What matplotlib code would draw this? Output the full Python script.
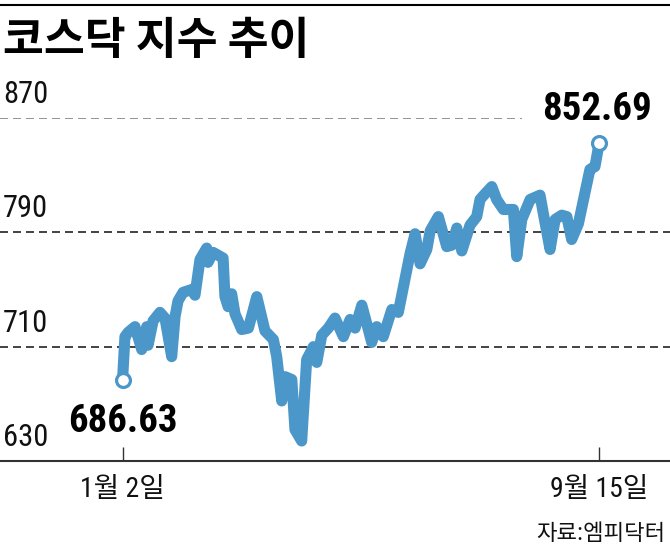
import numpy as np
import matplotlib.pyplot as plt

# KOSDAQ index, days counted from Jan 2
day = [0, 1.3, 3.0, 6.7, 10.3, 13.0, 13.7, 16.4, 20.1, 22.8, 26.4, 28.2, 29.8, 32.5,
       37.2, 38.9, 41.6, 45.2, 45.9, 48.6, 54.0, 55.0, 56.7, 58.6, 60.4, 64.0, 67.6,
       72.1, 76.5, 81.0, 82.8, 85.5, 87.3, 90.9, 92.6, 96.2, 98.9, 102.5, 104.3, 107.0,
       110.5, 114.1, 118.6, 122.2, 124.9, 128.5, 132.0, 133.8, 136.5, 140.0, 144.6,
       148.1, 154.4, 157.1, 159.8, 163.4, 165.2, 169.6, 174.1, 176.8, 179.5, 182.2,
       186.6, 190.2, 192.0, 194.7, 198.3, 200.9, 204.5, 209.9, 211.7, 214.4, 218.9,
       224.2, 226.0, 229.6, 232.3, 235.9, 238.6, 241.2, 244.8, 251.0, 253.7, 256]
kosdaq = [686.63, 717, 720, 724, 708, 724, 711, 728, 734, 730, 703, 731, 742, 748,
          750, 746, 771, 779, 769, 776, 772, 745, 738, 747, 733, 722, 723,
          745, 721, 715, 703, 672, 689, 687, 652, 644, 701, 710, 699, 718,
          723, 730, 717, 729, 723, 739, 722, 713, 724, 717, 736,
          734, 775, 789, 768, 778, 791, 801, 780, 781, 793, 777,
          795, 801, 813, 817, 822, 813, 806, 806, 773, 799, 813,
          816, 803, 778, 799, 802, 801, 785, 796, 834, 836, 852.69]

grid_vals = [710, 790, 870]
ytick_vals = [630, 710, 790, 870]
xtick_pos = [0, 256]
xtick_lab = ['1월 2일', '9월 15일']

num_font = ['Roboto Condensed', 'Noto Sans CJK KR', 'DejaVu Sans']
kr_font = ['Noto Sans CJK KR', 'DejaVu Sans']
blue = '#4b97c9'

fig = plt.figure(figsize=(6.7, 5.51), dpi=100)
ax = fig.add_axes([0, 1 - 461 / 551, 1, (461 - 118) / 551])
ax.set_xlim(-65.8, 294.0)
ax.set_ylim(630, 870)

# dashed guide lines
for v in grid_vals:
    if v == 870:
        ax.axhline(v, xmax=522 / 670, color='#808080', lw=1.2, ls=(0, (4.8, 3.0)))
    else:
        ax.axhline(v, color='#222222', lw=1.2, ls=(0, (4.8, 3.0)))

for v in ytick_vals:
    ax.text(3 / 670, v + 10.5, str(v), transform=ax.get_yaxis_transform(),
            ha='left', va='baseline', fontsize=22, family=num_font, color='#111111')

ax.plot(day, kosdaq, color=blue, lw=8, solid_capstyle='round', solid_joinstyle='round')
ax.plot([day[0], day[-1]], [kosdaq[0], kosdaq[-1]], 'o', ms=10, mfc='white',
        mec=blue, mew=2.3, zorder=5)

ax.annotate(f'{kosdaq[0]:.2f}', (day[0], kosdaq[0]), xytext=(0, -37.5),
            textcoords='offset points', ha='center', va='baseline', fontsize=28,
            fontweight='bold', family=num_font, annotation_clip=False)
ax.annotate(f'{kosdaq[-1]:.2f}', (day[-1], kosdaq[-1]), xytext=(-1.5, 16.5),
            textcoords='offset points', ha='center', va='baseline', fontsize=28,
            fontweight='bold', family=num_font, annotation_clip=False)

for s in ['top', 'left', 'right']:
    ax.spines[s].set_visible(False)
ax.spines['bottom'].set_color('#333333')
ax.spines['bottom'].set_linewidth(1.5)
ax.set_yticks([])
ax.set_xticks(xtick_pos)
ax.set_xticklabels(xtick_lab, family=num_font, fontsize=20, color='#111111')
ax.tick_params(axis='x', direction='in', length=10, width=1, color='#333333', pad=11)

# title, top rule and source
fig.add_artist(plt.Line2D([0, 1], [1 - 4.5 / 551] * 2, color='black', lw=1.5))
fig.text(3 / 670, 1 - 41 / 551, '코스닥 지수 추이', ha='left', va='center',
         fontsize=32, fontweight='bold', family=kr_font)
fig.text(665 / 670, 1 - 533 / 551, '자료:엠피닥터', ha='right', va='center',
         fontsize=16, family=kr_font, color='#111111')

fig.savefig('out.png', dpi=100)
